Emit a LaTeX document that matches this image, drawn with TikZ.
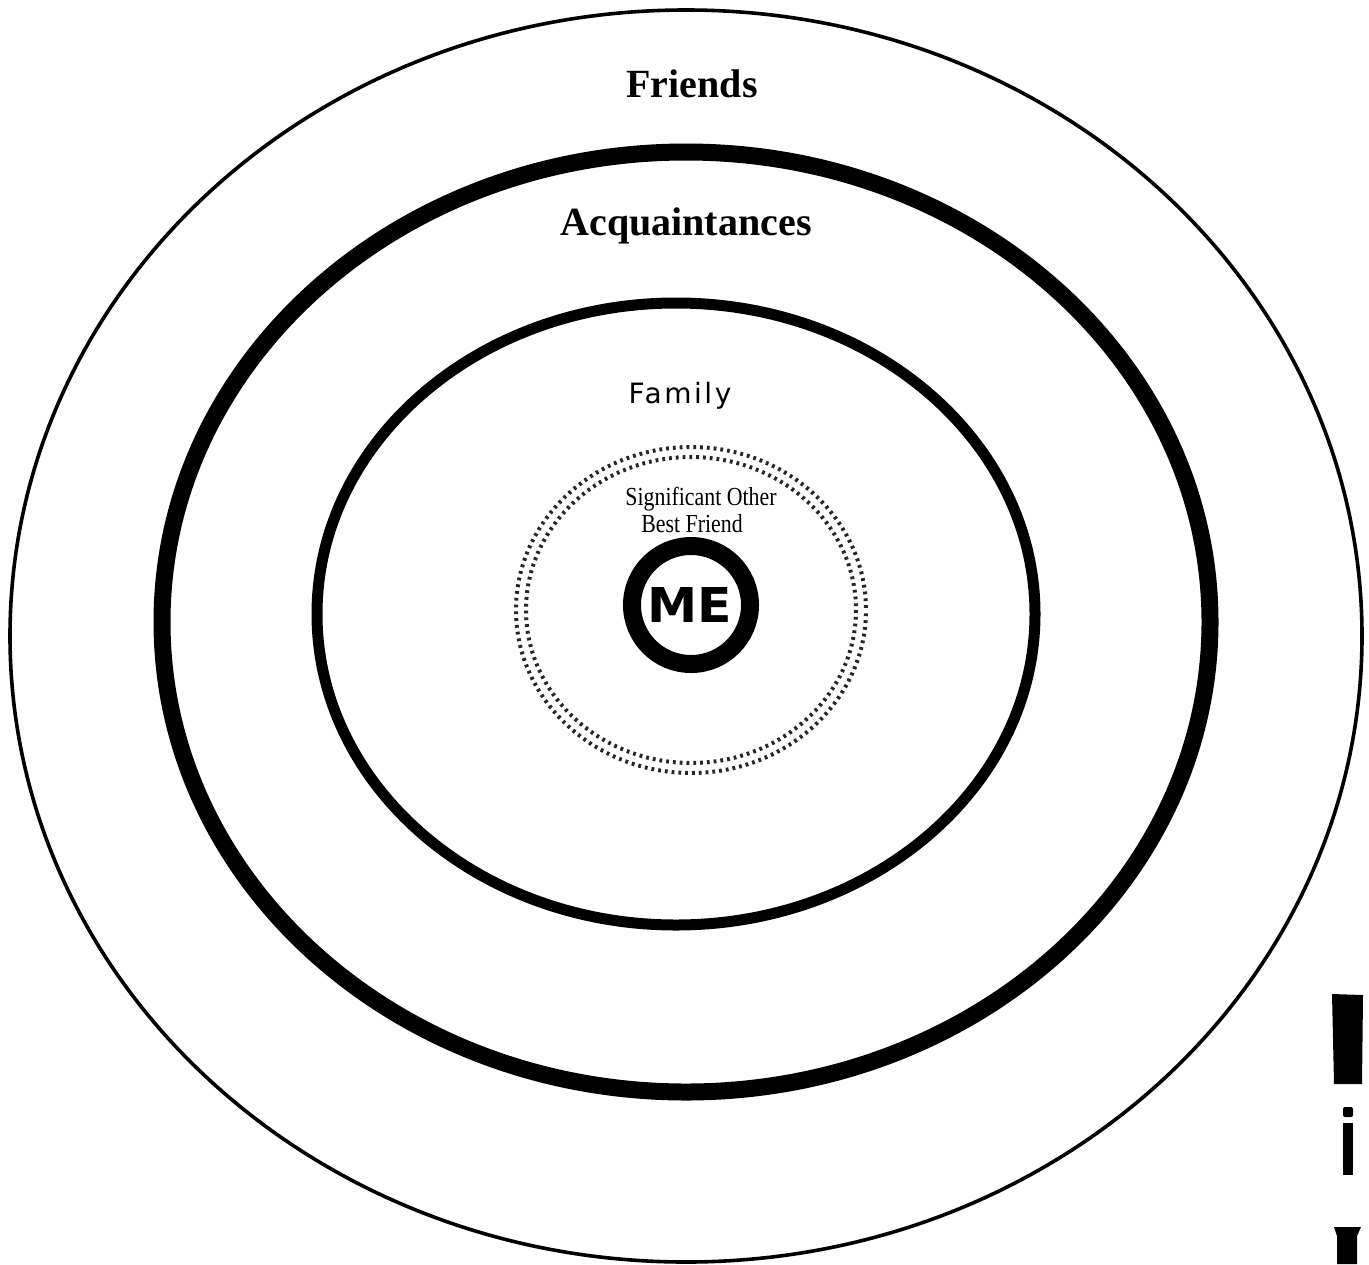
\documentclass[tikz,border=0pt]{standalone}
\usepackage{fontspec}
\setmainfont{Liberation Serif}
\newfontfamily\familyfont[LetterSpace=9]{DejaVu Sans}
\newfontfamily\mefont{DejaVu Sans}
\begin{document}
\begin{tikzpicture}[x=0.5pt, y=-0.5pt,
    ringlabel/.style={inner sep=0pt, anchor=base},
    dotrow/.style={line width=2pt, dash pattern=on 1.4pt off 2pt, black!85}]
    % 1. Khung ảnh
    \useasboundingbox (0,0) rectangle (1369,1264);
    \fill[white] (0,0) rectangle (1369,1264);

    % 2. Tâm các vòng
    \coordinate (Cfr) at (686,636);
    \coordinate (Cac) at (686,622);
    \coordinate (Cfa) at (676,614);
    \coordinate (Cso) at (691,610);
    \coordinate (Cme) at (691,605);

    % 3. Các vòng elip
    \draw[line width=1.8pt] (Cfr) ellipse [x radius=676, y radius=626];
    \draw[line width=8.5pt] (Cac) ellipse [x radius=524, y radius=470];
    \draw[line width=5.5pt] (Cfa) ellipse [x radius=359, y radius=311];

    % Vòng chấm (hai hàng chấm)
    \foreach \d/\ph in {-5/0pt, 5/1.7pt} {
        \draw[dotrow, dash phase=\ph] (Cso) ellipse [x radius=170+\d, y radius=158+\d];
    }

    % Vòng ME
    \draw[line width=9pt] (Cme) circle (59);

    % 4. Nhãn
    \node[ringlabel] (friends) at (692,97) {\fontsize{20}{24}\selectfont\bfseries Friends};
    \node[ringlabel] (acq) at (686,235) {\fontsize{20}{24}\selectfont\bfseries Acquaintances};
    \node[ringlabel] (family) at (680,403) {\fontsize{14}{17}\selectfont\familyfont Family};
    \node[ringlabel, xscale=0.84] (sigother) at (701,505) {\fontsize{13}{15}\selectfont Significant Other};
    \node[ringlabel, xscale=0.84] (bestfriend) at (692,532) {\fontsize{13}{15}\selectfont Best Friend};
    \node[ringlabel, xscale=1.05] (me) at (690,622) {\fontsize{24}{28}\selectfont\mefont\bfseries ME};

    % 5. Vết quét ở mép phải
    \fill (1332,994) -- (1363,995) -- (1362,1084) -- (1334,1084) -- cycle;
    \fill[rounded corners=1pt] (1343,1107) rectangle (1353,1117);
    \fill (1343,1123) rectangle (1353,1175);
    \fill (1334,1227) -- (1361,1227) -- (1357,1236) -- (1357,1264)
        -- (1337,1264) -- (1337,1236) -- cycle;
\end{tikzpicture}
\end{document}
